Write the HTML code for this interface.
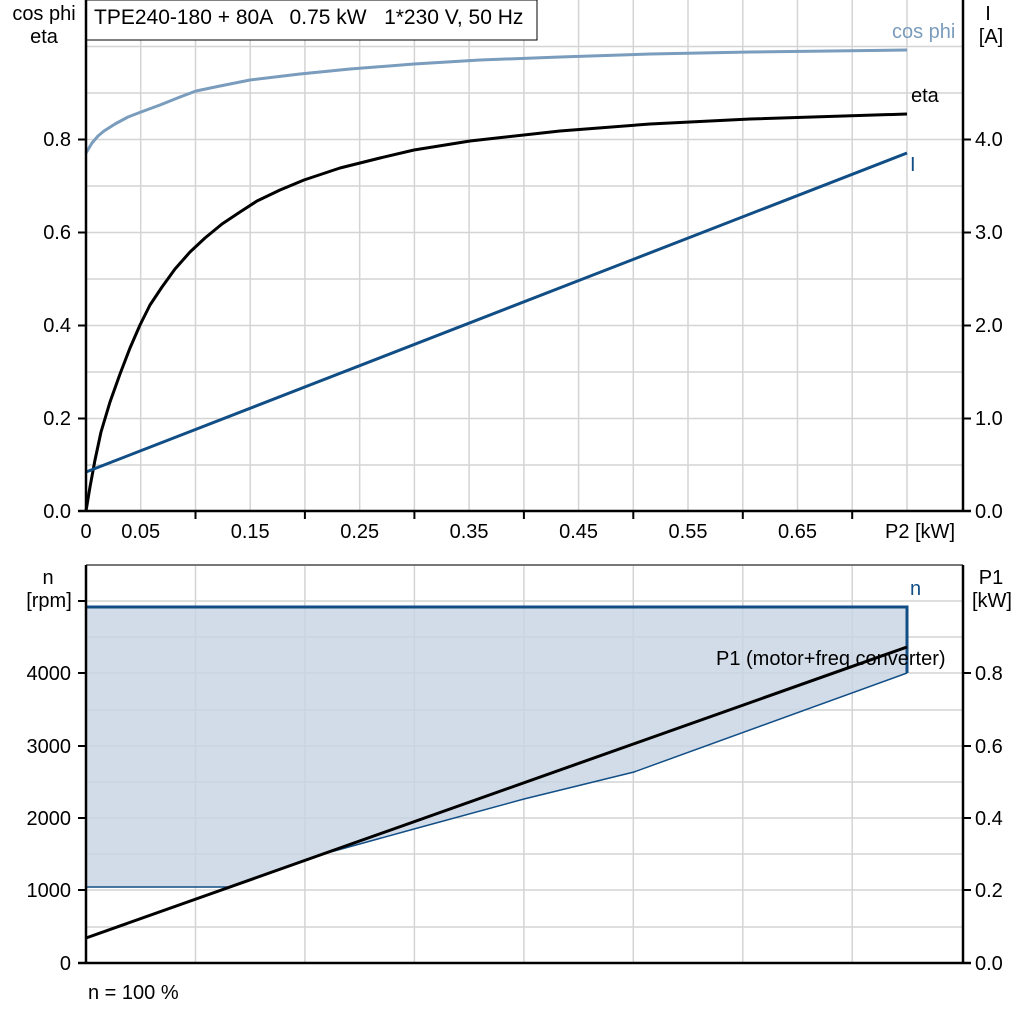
<!DOCTYPE html>
<html><head><style>body{margin:0;background:#fff}svg{display:block}text{font-family:"Liberation Sans",Arial,sans-serif;fill:#000}</style></head><body>
<svg width="1024" height="1024" viewBox="0 0 1024 1024" xmlns="http://www.w3.org/2000/svg" font-size="20" font-family="Liberation Sans, Arial, sans-serif">
<g stroke="#d4d4d4" stroke-width="1.5">
<line x1="140.7" y1="0" x2="140.7" y2="511"/><line x1="195.5" y1="0" x2="195.5" y2="511"/><line x1="250.2" y1="0" x2="250.2" y2="511"/><line x1="304.9" y1="0" x2="304.9" y2="511"/><line x1="359.7" y1="0" x2="359.7" y2="511"/><line x1="414.4" y1="0" x2="414.4" y2="511"/><line x1="469.1" y1="0" x2="469.1" y2="511"/><line x1="523.9" y1="0" x2="523.9" y2="511"/><line x1="578.6" y1="0" x2="578.6" y2="511"/><line x1="633.3" y1="0" x2="633.3" y2="511"/><line x1="688" y1="0" x2="688" y2="511"/><line x1="742.8" y1="0" x2="742.8" y2="511"/><line x1="797.5" y1="0" x2="797.5" y2="511"/><line x1="852.2" y1="0" x2="852.2" y2="511"/><line x1="907" y1="0" x2="907" y2="511"/>
<line x1="86" y1="46.5" x2="963" y2="46.5"/><line x1="86" y1="93" x2="963" y2="93"/><line x1="86" y1="139.5" x2="963" y2="139.5"/><line x1="86" y1="186" x2="963" y2="186"/><line x1="86" y1="232.5" x2="963" y2="232.5"/><line x1="86" y1="279" x2="963" y2="279"/><line x1="86" y1="325.5" x2="963" y2="325.5"/><line x1="86" y1="372" x2="963" y2="372"/><line x1="86" y1="418.5" x2="963" y2="418.5"/><line x1="86" y1="465" x2="963" y2="465"/>
</g>
<rect x="86" y="0" width="451" height="40" fill="#fff" stroke="#000" stroke-width="1"/>
<text x="94" y="24" font-size="21" xml:space="preserve">TPE240-180 + 80A   0.75 kW   1*230 V, 50 Hz</text>
<polyline fill="none" stroke="#7a9cbd" stroke-width="3" stroke-linejoin="round" points="86,153 92,143 98,136 104,131 115,124 128,117 141,112 160,105 180,97 196,91 220,86 250,80 300,74 350,69 414,64 480,60 560,57 650,54 750,52 907,50"/>
<polyline fill="none" stroke="#000" stroke-width="3" stroke-linejoin="round" points="86,511 90,487 95,460 101,432 110,402 120,374 130,348 140,325 150,305 162,287 175,269 190,252 205,238 222,224 240,212 257,201 280,190 304,180 340,168 380,158 414,150 470,141 560,131 650,124 750,119 907,114"/>
<line x1="86" y1="472" x2="907" y2="153" stroke="#124e86" stroke-width="3"/>
<text x="892" y="38" style="fill:#7a9cbd">cos phi</text>
<text x="911" y="102">eta</text>
<text x="910" y="171" style="fill:#124e86">I</text>
<g stroke="#000" stroke-width="2.5"><line x1="86" y1="0" x2="86" y2="512"/><line x1="963" y1="0" x2="963" y2="512"/><line x1="78" y1="511" x2="971" y2="511"/></g>
<g stroke="#000" stroke-width="2">
<line x1="78" y1="139.5" x2="86" y2="139.5"/><line x1="78" y1="232.5" x2="86" y2="232.5"/><line x1="78" y1="325.5" x2="86" y2="325.5"/><line x1="78" y1="418.5" x2="86" y2="418.5"/>
<line x1="963" y1="139.5" x2="971" y2="139.5"/><line x1="963" y1="232.5" x2="971" y2="232.5"/><line x1="963" y1="325.5" x2="971" y2="325.5"/><line x1="963" y1="418.5" x2="971" y2="418.5"/>
<line x1="195.5" y1="511" x2="195.5" y2="519"/><line x1="304.9" y1="511" x2="304.9" y2="519"/><line x1="414.4" y1="511" x2="414.4" y2="519"/><line x1="523.9" y1="511" x2="523.9" y2="519"/><line x1="633.3" y1="511" x2="633.3" y2="519"/><line x1="742.8" y1="511" x2="742.8" y2="519"/><line x1="852.2" y1="511" x2="852.2" y2="519"/>
</g>
<g text-anchor="middle"><text x="44" y="20">cos phi</text><text x="44" y="43">eta</text><text x="988" y="20">I</text><text x="991" y="43">[A]</text></g>
<g text-anchor="end"><text x="71" y="146">0.8</text><text x="71" y="239">0.6</text><text x="71" y="332">0.4</text><text x="71" y="425">0.2</text><text x="71" y="518">0.0</text></g>
<g><text x="975" y="146">4.0</text><text x="975" y="239">3.0</text><text x="975" y="332">2.0</text><text x="975" y="425">1.0</text><text x="975" y="518">0.0</text></g>
<g text-anchor="middle"><text x="86" y="538">0</text><text x="140.7" y="538">0.05</text><text x="250.2" y="538">0.15</text><text x="359.7" y="538">0.25</text><text x="469.1" y="538">0.35</text><text x="578.6" y="538">0.45</text><text x="688" y="538">0.55</text><text x="797.5" y="538">0.65</text><text x="920" y="538">P2 [kW]</text></g>

<g stroke="#d4d4d4" stroke-width="1.5">
<line x1="195.5" y1="565" x2="195.5" y2="963"/><line x1="304.9" y1="565" x2="304.9" y2="963"/><line x1="414.4" y1="565" x2="414.4" y2="963"/><line x1="523.9" y1="565" x2="523.9" y2="963"/><line x1="633.3" y1="565" x2="633.3" y2="963"/><line x1="742.8" y1="565" x2="742.8" y2="963"/><line x1="852.2" y1="565" x2="852.2" y2="963"/>
<line x1="86" y1="601" x2="963" y2="601"/><line x1="86" y1="637" x2="963" y2="637"/><line x1="86" y1="673" x2="963" y2="673"/><line x1="86" y1="710" x2="963" y2="710"/><line x1="86" y1="746" x2="963" y2="746"/><line x1="86" y1="782" x2="963" y2="782"/><line x1="86" y1="818" x2="963" y2="818"/><line x1="86" y1="854" x2="963" y2="854"/><line x1="86" y1="890" x2="963" y2="890"/><line x1="86" y1="927" x2="963" y2="927"/>
</g>
<polygon fill="#c5d3e2" fill-opacity="0.8" points="86,607 907,607 907,673 634,772 524,799 414,829 327,853 229,887 86,887"/>
<polyline fill="none" stroke="#124e86" stroke-width="1.5" points="86,887 229,887 327,853 414,829 524,799 634,772 907,673"/>
<polyline fill="none" stroke="#124e86" stroke-width="3" points="86,607 907,607 907,673"/>
<line x1="86" y1="938" x2="907" y2="647" stroke="#000" stroke-width="3"/>
<text x="716" y="665">P1 (motor+freq converter)</text>
<text x="910" y="595" style="fill:#124e86">n</text>
<line x1="86" y1="565" x2="963" y2="565" stroke="#777" stroke-width="2"/>
<g stroke="#000" stroke-width="2.5"><line x1="86" y1="565" x2="86" y2="964"/><line x1="963" y1="565" x2="963" y2="964"/><line x1="78" y1="963" x2="971" y2="963"/></g>
<g stroke="#000" stroke-width="2">
<line x1="78" y1="601" x2="86" y2="601"/><line x1="78" y1="673" x2="86" y2="673"/><line x1="78" y1="746" x2="86" y2="746"/><line x1="78" y1="818" x2="86" y2="818"/><line x1="78" y1="890" x2="86" y2="890"/>
<line x1="963" y1="673" x2="971" y2="673"/><line x1="963" y1="746" x2="971" y2="746"/><line x1="963" y1="818" x2="971" y2="818"/><line x1="963" y1="890" x2="971" y2="890"/>
</g>
<g text-anchor="middle"><text x="48" y="584">n</text><text x="49" y="607">[rpm]</text><text x="991" y="584">P1</text><text x="992" y="607">[kW]</text></g>
<g text-anchor="end"><text x="71" y="680">4000</text><text x="71" y="753">3000</text><text x="71" y="825">2000</text><text x="71" y="897">1000</text><text x="71" y="970">0</text></g>
<g><text x="975" y="680">0.8</text><text x="975" y="753">0.6</text><text x="975" y="825">0.4</text><text x="975" y="897">0.2</text><text x="975" y="970">0.0</text></g>
<text x="88" y="999">n = 100 %</text>
</svg>
</body></html>
